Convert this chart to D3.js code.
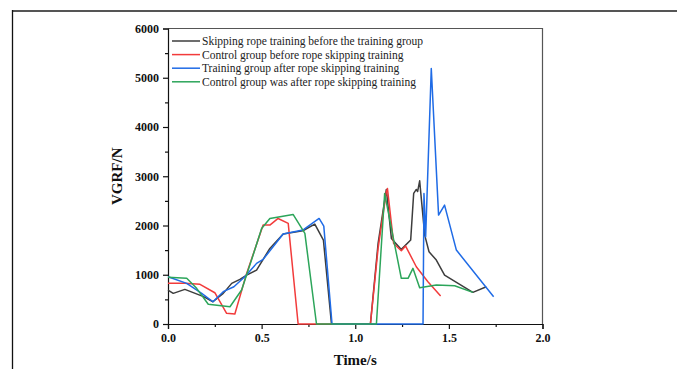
<!DOCTYPE html>
<html><head><meta charset="utf-8">
<script src="https://cdn.jsdelivr.net/npm/d3@7"></script>
<style>body{margin:0;background:#fff;} svg{display:block;}</style>
</head><body>
<svg id="c" width="677" height="369"></svg>
<script>
const seriesNames = [
  "Skipping rope training before the training group",
  "Control group before rope skipping training",
  "Training group after rope skipping training",
  "Control group was after rope skipping training"
];
const seriesColors = ["#3d3d3d", "#f23b3b", "#1f6be6", "#2ca55a"];
const xTicks = [0.0, 0.5, 1.0, 1.5, 2.0];
const yTicks = [0, 1000, 2000, 3000, 4000, 5000, 6000];

const blackT = [0,0.028,0.09,0.19,0.24,0.295,0.34,0.384,0.42,0.473,0.544,0.615,0.72,0.784,0.83,0.873,1.081,1.122,1.166,1.193,1.246,1.296,1.312,1.326,1.333,1.344,1.371,1.394,1.433,1.477,1.628,1.7];
const blackV = [690,622,703,555,452,622,825,906,994,1095,1535,1826,1893,2028,1704,0,0,1636,2732,1738,1515,1704,2651,2732,2690,2907,1805,1467,1298,994,643,757];
const redT = [0,0.09,0.171,0.25,0.313,0.357,0.42,0.508,0.544,0.588,0.642,0.695,1.081,1.122,1.166,1.172,1.205,1.246,1.269,1.326,1.388,1.456];
const redV = [825,825,805,635,217,203,1028,2008,2008,2143,2042,0,0,1535,2684,2750,1636,1487,1582,1163,858,568];
const blueT = [0,0.1,0.18,0.24,0.295,0.352,0.41,0.473,0.508,0.615,0.72,0.807,0.832,0.876,1.362,1.367,1.376,1.406,1.445,1.477,1.54,1.739];
const blueV = [960,825,622,452,656,757,960,1231,1312,1826,1907,2143,1988,0,0,2651,1771,5187,2211,2414,1501,554];
const greenT = [0,0.1,0.153,0.215,0.331,0.393,0.446,0.5,0.544,0.668,0.731,0.793,1.113,1.157,1.202,1.246,1.282,1.308,1.344,1.433,1.531,1.628];
const greenV = [947,927,724,400,351,690,1298,1941,2143,2225,1839,0,0,2651,1771,927,927,1130,737,791,777,643];

const series = [
  {t: blackT, v: blackV},
  {t: redT, v: redV},
  {t: blueT, v: blueV},
  {t: greenT, v: greenV}
];

const svg = d3.select("#c");
const L = 168, R = 542.5, T = 28.5, B = 324;
const x = d3.scaleLinear().domain([0, 2]).range([L, R]);
const y = d3.scaleLinear().domain([0, 6000]).range([B, T]);

// outer frame
svg.append("line").attr("x1", 12).attr("x2", 677).attr("y1", 11).attr("y2", 11)
  .attr("stroke", "#555").attr("stroke-width", 2);
svg.append("line").attr("x1", 12.5).attr("x2", 12.5).attr("y1", 10).attr("y2", 369)
  .attr("stroke", "#111").attr("stroke-width", 1.3);

// plot box top and right
svg.append("path").attr("d", `M${L},${T}H${R}V${B}`).attr("fill", "none")
  .attr("stroke", "#555").attr("stroke-width", 1.2);

const font = "'Liberation Serif','Times New Roman',serif";

// x axis
svg.append("g").attr("transform", `translate(0,${B})`)
  .call(d3.axisBottom(x).tickValues(xTicks).tickFormat(d3.format(".1f")).tickSize(5).tickPadding(4));
svg.append("g").attr("transform", `translate(0,${B})`)
  .call(d3.axisBottom(x).tickValues([0.25,0.75,1.25,1.75]).tickFormat("").tickSize(3))
  .select(".domain").remove();
// y axis
svg.append("g").attr("transform", `translate(${L},0)`)
  .call(d3.axisLeft(y).tickValues(yTicks).tickFormat(d3.format("d")).tickSize(5).tickPadding(4));
svg.append("g").attr("transform", `translate(${L},0)`)
  .call(d3.axisLeft(y).tickValues([500,1500,2500,3500,4500,5500]).tickFormat("").tickSize(3))
  .select(".domain").remove();

svg.selectAll(".tick text").attr("font-family", font).attr("font-weight", "bold")
  .attr("font-size", 12).attr("fill", "#111");
svg.selectAll(".domain, .tick line").attr("stroke", "#111").attr("stroke-width", 1.2);

// axis titles
svg.append("text").attr("x", (L + R) / 2).attr("y", 365).attr("text-anchor", "middle")
  .attr("font-family", font).attr("font-weight", "bold").attr("font-size", 15).attr("fill", "#111")
  .text("Time/s");
svg.append("text").attr("transform", `translate(122,${(T + B) / 2}) rotate(-90)`)
  .attr("text-anchor", "middle")
  .attr("font-family", font).attr("font-weight", "bold").attr("font-size", 15).attr("fill", "#111")
  .text("VGRF/N");

// lines
const line = d3.line().x(d => x(d[0])).y(d => y(d[1]));
series.forEach((s, i) => {
  const pts = s.t.map((t, k) => [t, s.v[k]]);
  svg.append("path").datum(pts).attr("d", line).attr("fill", "none")
    .attr("stroke", seriesColors[i]).attr("stroke-width", 1.5).attr("stroke-linejoin", "round");
});

// legend
const lg = svg.append("g");
seriesNames.forEach((n, i) => {
  const yy = 41 + i * 13.6;
  lg.append("line").attr("x1", 172).attr("x2", 200).attr("y1", yy).attr("y2", yy)
    .attr("stroke", seriesColors[i]).attr("stroke-width", 1.5);
  lg.append("text").attr("x", 202).attr("y", yy + 4).attr("font-family", font)
    .attr("font-size", 11.5).attr("fill", "#222").text(n);
});
</script>
</body></html>
